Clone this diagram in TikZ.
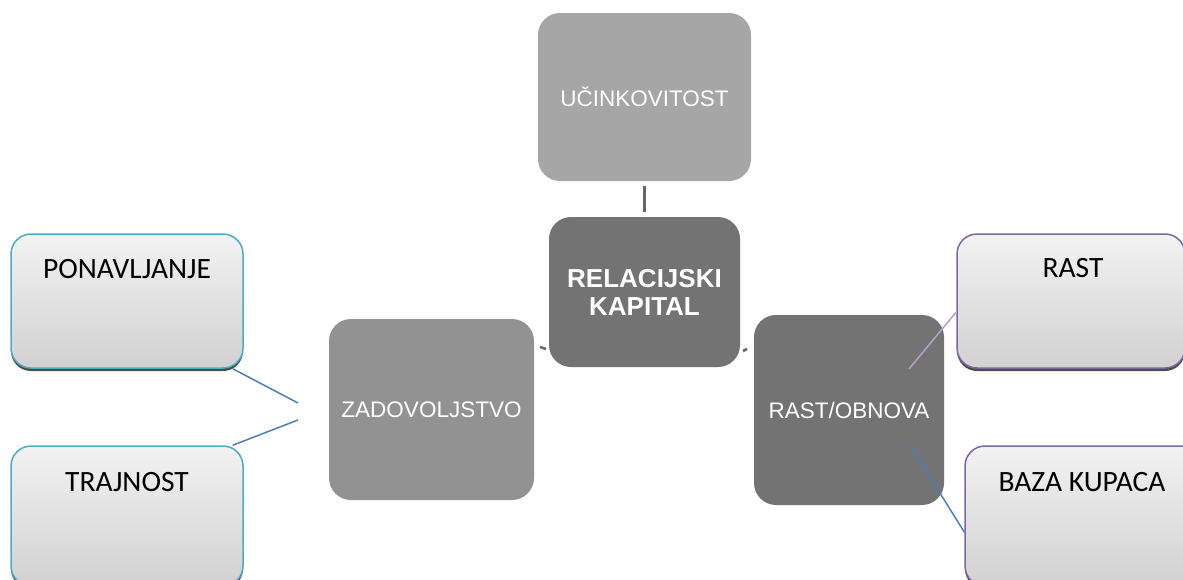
\documentclass[tikz,border=0pt]{standalone}
\usepackage{fontspec}
\setmainfont{Carlito}
\newfontfamily\arialfont{Liberation Sans}
\usetikzlibrary{shadows}
\definecolor{darkg}{HTML}{737373}
\definecolor{midg}{HTML}{929292}
\definecolor{lightg}{HTML}{A6A6A6}
\definecolor{cyanb}{HTML}{4BACC6}
\definecolor{purpb}{HTML}{8064A2}
\definecolor{lineblue}{HTML}{4A7EBB}
\definecolor{linelilac}{HTML}{B3A2C7}
\definecolor{connG}{HTML}{666666}
\tikzset{
  graybox/.style={rounded corners=22pt, text=white, inner sep=0pt,
    font=\arialfont\fontsize{22.5}{26}\selectfont, align=center},
  leafbox/.style={rounded corners=20pt, line width=1.5pt, inner sep=0pt,
    top color=black!5, bottom color=black!18,
    drop shadow={shadow xshift=0pt, shadow yshift=-3pt, fill=black!70, opacity=1}},
  leaftext/.style={font=\fontsize{29.5}{32}\selectfont, text=black, inner sep=0pt},
  conn/.style={line width=1.5pt},
  hub/.style={draw=connG, line width=3pt},
}
\begin{document}
\begin{tikzpicture}[x=1pt,y=-1pt]
\useasboundingbox (0,0) rectangle (1183,579);
% gray central boxes
\node[graybox, fill=lightg, minimum width=213pt, minimum height=168pt] (uc) at (644.5,97) {UČINKOVITOST};
\node[graybox, fill=darkg, minimum width=191pt, minimum height=150pt,
  font=\arialfont\bfseries\fontsize{26}{28}\selectfont] (rk) at (644.5,292) {RELACIJSKI\\KAPITAL};
\node[graybox, fill=midg, minimum width=205pt, minimum height=181pt] (za) at (431.5,409.5) {ZADOVOLJSTVO};
\node[graybox, fill=darkg, minimum width=190pt, minimum height=190pt] (ro) at (849,410) {RAST/OBNOVA};
% hub connectors
\draw[hub] ([yshift=-5pt]uc.south) -- ([yshift=5pt]rk.north);
\coordinate (lm) at (543,348);
\coordinate (rm) at (745,350);
\draw[connG, line width=2.5pt] ([xshift=-3pt,yshift=1pt]lm) -- ([xshift=3pt,yshift=-1pt]lm);
\draw[connG, line width=2.5pt] ([xshift=-2pt,yshift=-1pt]rm) -- ([xshift=2pt,yshift=1pt]rm);
% leaf boxes
\node[leafbox, draw=cyanb, minimum width=232pt, minimum height=134pt] (po) at (127,301) {};
\node[leafbox, draw=cyanb, minimum width=232pt, minimum height=140pt] (tr) at (127,516) {};
\node[leafbox, draw=purpb, minimum width=228pt, minimum height=134pt] (ra) at (1071,301) {};
\node[leafbox, draw=purpb, minimum width=236pt, minimum height=140pt] (bk) at (1083,516) {};
\node[leaftext] (pot) at (127,269) {PONAVLJANJE};
\node[leaftext] (trt) at (127,482) {TRAJNOST};
\node[leaftext] (rat) at (1073,268) {RAST};
\node[leaftext] (bkt) at (1082,482) {BAZA KUPACA};
% leaf connectors
\coordinate (zl1) at (298,403);
\coordinate (zl2) at (298,420);
\coordinate (ro1) at (909,369);
\coordinate (ro2) at (910,445);
\draw[conn, lineblue] ([xshift=-11pt]po.south east) -- (zl1);
\draw[conn, lineblue] ([xshift=-11pt]tr.north east) -- (zl2);
\draw[conn, linelilac] (ro1) -- ([yshift=-11pt]ra.west);
\draw[conn, lineblue] (ro2) -- ([yshift=-16pt]bk.west);
\end{tikzpicture}
\end{document}
